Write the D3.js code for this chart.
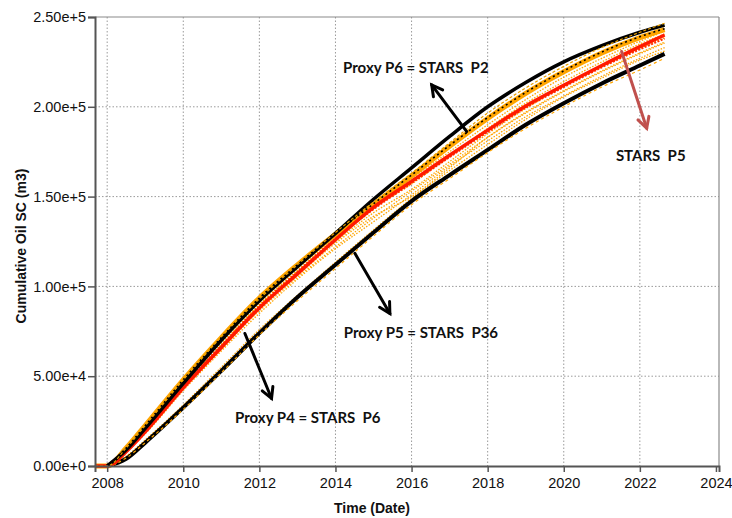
<!DOCTYPE html>
<html>
<head>
<meta charset="utf-8">
<script src="https://cdn.jsdelivr.net/npm/d3@7/dist/d3.min.js"></script>
<style>
  html, body { margin: 0; padding: 0; background: #fff; }
  svg { display: block; }
  .tick text { font-family: "Liberation Sans", Arial, sans-serif; font-size: 14.5px; fill: #111; }
  .lbl { font-family: Lato, "Open Sans", sans-serif; font-weight: 700; font-size: 15px; fill: #111; white-space: pre; }
  .title { font-family: "Liberation Sans", Arial, sans-serif; font-weight: 700; font-size: 14px; fill: #111; }
</style>
</head>
<body>
<svg id="chart" width="732" height="518"></svg>
<script>
// Sample times (decimal years) shared by every cumulative oil curve
const years = [2007.68, 2008, 2008.5, 2009, 2010, 2011, 2012, 2013, 2014, 2015,
               2016, 2017, 2018, 2019, 2020, 2021, 2022, 2022.65];

// Proxy runs (black), m3 — proxies begin at the start of production
const proxyP6 = [null, 0, 9000, 21000, 46000, 70000, 92000, 111000, 129500, 148500,
                 166000, 183500, 200000, 213500, 225000, 234000, 241500, 245500];
const proxyP4 = [null, 0, 10000, 22500, 48000, 71500, 93500, 112000, 129500, 146000,
                 162000, 178500, 194000, 208000, 220000, 230500, 239000, 243500];
const proxyP5 = [null, 0, 4000, 13000, 32500, 53000, 74000, 94000, 112000, 130000,
                 147500, 162000, 176000, 190000, 202000, 213000, 223000, 229500];

// STARS runs
const starsP5 = [0, 0, 8000, 19000, 43500, 66000, 88000, 107000, 126000, 144000,
                 158500, 173000, 187000, 200500, 212000, 223000, 233500, 240000];
const starsP5b = [0, 0, 8500, 19500, 44500, 67000, 89000, 108000, 126500, 143000,
                  157500, 172000, 186000, 199500, 211000, 222000, 232000, 238000];
const starsP2 = [0, 0, 10000, 22500, 48000, 72000, 93000, 112000, 130000, 147000,
                 163000, 180000, 196500, 210500, 222500, 233000, 241500, 246500];
const starsP6 = [0, 0, 10000, 22500, 48000, 71500, 93500, 112000, 129000, 145500,
                 161500, 178000, 193500, 207500, 219500, 230000, 238500, 243000];
const starsP36 = [0, 0, 4500, 13000, 31500, 52000, 73000, 92000, 110000, 128000,
                  145500, 160000, 174500, 188000, 200000, 211000, 220500, 227000];

// Remaining STARS ensemble members (dotted orange)
const ensemble = [
  [0, 0, 9500, 21000, 46500, 70000, 91000, 110000, 128000, 145000, 160000, 175000, 190000, 204000, 216500, 227000, 236500, 242000],
  [0, 0, 9000, 20500, 45500, 68500, 90000, 109000, 127000, 143500, 157000, 172500, 188000, 202000, 214000, 225000, 235000, 240500],
  [0, 0, 8000, 18500, 43000, 65000, 86500, 105000, 122000, 138000, 153000, 168000, 183000, 196500, 208500, 219500, 229500, 235500],
  [0, 0, 8000, 18000, 42000, 64000, 85000, 104000, 121000, 136000, 151000, 167000, 181000, 194500, 206000, 217000, 227000, 233000],
  [0, 0, 8500, 19500, 44000, 66500, 88000, 106000, 124000, 139000, 150000, 166000, 183000, 197000, 209000, 220000, 230000, 236000],
  [0, 0, 9000, 20000, 45000, 67500, 89500, 108500, 125000, 141000, 154000, 169500, 185000, 199000, 211500, 222500, 232500, 238500],
  [0, 0, 5500, 14500, 34000, 55000, 76000, 95000, 113500, 131500, 149000, 164500, 179000, 193000, 205500, 216000, 226000, 231000]
];

// Axis ticks
const xTicks = [2008, 2010, 2012, 2014, 2016, 2018, 2020, 2022, 2024];
const yTicks = [0, 50000, 100000, 150000, 200000, 250000];

// Annotations: [text, year, value] for labels and arrows [x1, y1, x2, y2] in data units
const labels = [
  ["Proxy P6 = STARS  P2", 2014.2, 218700],
  ["STARS  P5", 2021.37, 170000],
  ["Proxy P5 = STARS  P36", 2014.22, 71000],
  ["Proxy P4 = STARS  P6", 2011.36, 24000]
];
const arrows = [
  [2017.45, 186200, 2016.53, 212200, "#000"],
  [2014.51, 118400, 2015.43, 84900, "#000"],
  [2011.62, 73800, 2012.32, 37600, "#000"],
  [2021.52, 230800, 2022.18, 188100, "#c0504d"]
];

const svg = d3.select("#chart");
const L = 95, R = 719, T = 17, B = 466;

const x = d3.scaleLinear().domain([2007.68, 2024.08]).range([L, R]);
const y = d3.scaleLinear().domain([0, 250000]).range([B, T]);

// Grid
const grid = svg.append("g").attr("stroke", "#9a9a9a").attr("stroke-width", 1)
  .attr("stroke-dasharray", "1.5,2");
grid.selectAll(".gx").data(xTicks.filter(d => d < 2024)).join("line")
  .attr("x1", d => x(d)).attr("x2", d => x(d)).attr("y1", T).attr("y2", B);
grid.selectAll(".gy").data(yTicks.filter(d => d > 0 && d < 250000)).join("line")
  .attr("y1", d => y(d)).attr("y2", d => y(d)).attr("x1", L).attr("x2", R);

// Frame (top and right)
svg.append("line").attr("x1", L).attr("x2", R).attr("y1", T).attr("y2", T)
  .attr("stroke", "#8a8a8a").attr("stroke-width", 1.2);
svg.append("line").attr("x1", R).attr("x2", R).attr("y1", T).attr("y2", B)
  .attr("stroke", "#8a8a8a").attr("stroke-width", 1.2);

const line = d3.line()
  .defined(d => d !== null)
  .x((d, i) => x(years[i]))
  .y(d => y(d))
  .curve(d3.curveMonotoneX);

const plot = svg.append("g");
function draw(values, color, width, dash) {
  plot.append("path").datum(values).attr("d", line)
    .attr("fill", "none").attr("stroke", color).attr("stroke-width", width)
    .attr("stroke-linejoin", "round")
    .attr("stroke-dasharray", dash || null);
}

// Ensemble members
ensemble.forEach(s => draw(s, "#ffa500", 1.3, "1.5,1.5"));
// Proxy P5 with its STARS P36 match
draw(proxyP5, "#000", 4);
draw(starsP36, "#ffa500", 1.2, "3,3");
// STARS P6 band with Proxy P4 dashed on it
draw(starsP6, "#ffa500", 5);
draw(proxyP4, "#000", 1.6, "2,3");
// STARS P5 (red)
draw(starsP5b, "#ff3300", 2, "2,1.5");
draw(starsP5, "#ff1a00", 3.5);
// Proxy P6 with STARS P2
draw(proxyP6, "#000", 3.5);
draw(starsP2, "#e8a000", 1.2, "3,2");

// Axes
const xAxis = d3.axisBottom(x).tickValues(xTicks).tickFormat(d3.format("d"))
  .tickSize(6).tickPadding(6);
const gx = svg.append("g").attr("transform", `translate(0,${B})`).call(xAxis);
gx.select(".domain").attr("stroke", "#555").attr("stroke-width", 2);
gx.selectAll(".tick line").attr("stroke", "#555").attr("stroke-width", 1.5);

const yAxis = d3.axisLeft(y).tickValues(yTicks).tickFormat(d3.format(".2e"))
  .tickSize(7).tickPadding(2);
const gy = svg.append("g").attr("transform", `translate(${L},0)`).call(yAxis);
gy.select(".domain").attr("stroke", "#555").attr("stroke-width", 2);
gy.selectAll(".tick line").attr("stroke", "#555").attr("stroke-width", 1.5);

// Axis titles
svg.append("text").attr("class", "title").attr("x", 372).attr("y", 513)
  .attr("text-anchor", "middle").text("Time (Date)");
svg.append("text").attr("class", "title")
  .attr("transform", "translate(26,246) rotate(-90)")
  .attr("text-anchor", "middle").text("Cumulative Oil SC (m3)");

// Arrows with open chevron heads
const ann = svg.append("g");
arrows.forEach(([x1, v1, x2, v2, c]) => {
  const px1 = x(x1), py1 = y(v1), px2 = x(x2), py2 = y(v2);
  const ang = Math.atan2(py2 - py1, px2 - px1);
  const hl = 12, ha = 0.5;
  ann.append("line").attr("x1", px1).attr("y1", py1).attr("x2", px2).attr("y2", py2)
    .attr("stroke", c).attr("stroke-width", 3).attr("stroke-linecap", "round");
  ann.append("path")
    .attr("d", `M${px2 - hl * Math.cos(ang - ha)},${py2 - hl * Math.sin(ang - ha)}` +
               `L${px2},${py2}` +
               `L${px2 - hl * Math.cos(ang + ha)},${py2 - hl * Math.sin(ang + ha)}`)
    .attr("fill", "none").attr("stroke", c).attr("stroke-width", 3)
    .attr("stroke-linejoin", "miter").attr("stroke-linecap", "round");
});

labels.forEach(([t, yr, v]) => {
  ann.append("text").attr("class", "lbl").attr("x", x(yr)).attr("y", y(v)).text(t);
});
</script>
</body>
</html>
